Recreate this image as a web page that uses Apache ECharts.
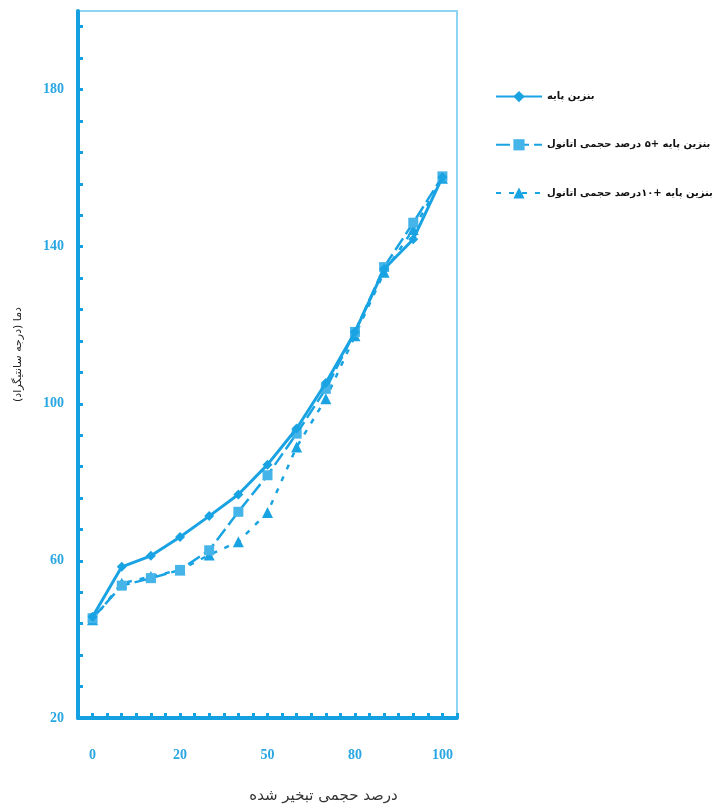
<!DOCTYPE html>
<html>
<head>
<meta charset="utf-8">
<script src="https://cdn.jsdelivr.net/npm/echarts@6/dist/echarts.min.js"></script>
<style>
html,body{margin:0;padding:0;background:#fff;}
#chart{width:715px;height:809px;}
</style>
</head>
<body>
<div id="chart"></div>
<script>
// Distillation points (% volume evaporated)
var categories = ['0','5','10','20','30','40','50','60','70','80','90','95','100'];
// Temperatures (°C)
var baseFuel = [45.8, 58.5, 61.3, 66.1, 71.4, 76.9, 84.5, 93.7, 105.3, 118.3, 134.3, 141.9, 157.7];
var ethanol5 = [45.4, 53.7, 55.6, 57.7, 62.7, 72.5, 81.8, 92.4, 103.8, 118.3, 134.8, 146.1, 157.9];
var ethanol10 = [45.0, 54.3, 56.0, 57.7, 61.5, 64.9, 72.3, 89.0, 101.3, 117.3, 133.5, 144.4, 157.4];
var seriesNames = ['بنزین پایه', 'بنزین پایه +۵ درصد حجمی اتانول', 'بنزین پایه +۱۰درصد حجمی اتانول'];
var yLabelValues = [20, 60, 100, 140, 180];
var yTickValues = [];
for (var t = 20; t < 200; t += 8) yTickValues.push(t);

var blue = '#1aa3e3';
var axisBlue = '#15a0e2';
var labelBlue = '#2aa6e2';

var chart = echarts.init(document.getElementById('chart'), null, {renderer: 'canvas'});
chart.setOption({
  animation: false,
  backgroundColor: '#ffffff',
  grid: {
    left: 78, right: 258, top: 11, bottom: 88,
    show: true, borderColor: '#8fd4f3', borderWidth: 2, backgroundColor: 'transparent'
  },
  legend: {
    orient: 'vertical',
    left: 490, top: 86,
    itemWidth: 46, itemHeight: 14, itemGap: 37,
    textStyle: {fontFamily: 'DejaVu Sans', fontWeight: 'bold', fontSize: 10, color: '#111'},
    data: seriesNames
  },
  xAxis: [{
    type: 'category',
    data: categories,
    boundaryGap: true,
    axisLine: {show: true, lineStyle: {color: axisBlue, width: 4}},
    axisTick: {show: true, inside: true, alignWithLabel: true, interval: 0, length: 5, lineStyle: {color: axisBlue, width: 3}},
    axisLabel: {interval: 2, margin: 30, color: labelBlue, fontFamily: 'Liberation Serif', fontWeight: 'bold', fontSize: 14},
    splitLine: {show: false},
    name: 'درصد حجمی تبخیر شده',
    nameLocation: 'middle',
    nameGap: 71,
    nameTextStyle: {fontFamily: 'DejaVu Sans', fontSize: 15, color: '#333', padding: [0, 0, 0, 112]}
  }, {
    type: 'category',
    data: categories,
    boundaryGap: true,
    position: 'bottom',
    axisLine: {show: false},
    axisTick: {show: true, inside: true, alignWithLabel: false, interval: 0, length: 5, lineStyle: {color: axisBlue, width: 3}},
    axisLabel: {show: false},
    splitLine: {show: false}
  }],
  yAxis: {
    type: 'value',
    min: 20, max: 200,
    axisLine: {show: true, lineStyle: {color: axisBlue, width: 4}},
    axisTick: {show: true, inside: true, length: 5, customValues: yTickValues, lineStyle: {color: axisBlue, width: 3}},
    axisLabel: {customValues: yLabelValues, margin: 14, color: labelBlue, fontFamily: 'Liberation Serif', fontWeight: 'bold', fontSize: 14},
    splitLine: {show: false},
    name: 'دما (درجه سانتیگراد)',
    nameLocation: 'middle',
    nameRotate: 90,
    nameGap: 54,
    nameTextStyle: {fontFamily: 'DejaVu Sans', fontSize: 11, color: '#222', padding: [0, 0, 0, 20]}
  },
  series: [{
    name: seriesNames[0],
    type: 'line',
    data: baseFuel,
    symbol: 'diamond', symbolSize: 10,
    itemStyle: {color: blue},
    lineStyle: {color: blue, width: 3, type: 'solid'},
    z: 4
  }, {
    name: seriesNames[1],
    type: 'line',
    data: ethanol5,
    symbol: 'rect', symbolSize: 10,
    itemStyle: {color: '#45b4e8'},
    lineStyle: {color: blue, width: 2.5, type: [14, 5]},
    z: 3
  }, {
    name: seriesNames[2],
    type: 'line',
    data: ethanol10,
    symbol: 'triangle', symbolSize: 11,
    itemStyle: {color: blue},
    lineStyle: {color: blue, width: 2.5, type: [5, 8]},
    z: 2
  }]
});
</script>
</body>
</html>
